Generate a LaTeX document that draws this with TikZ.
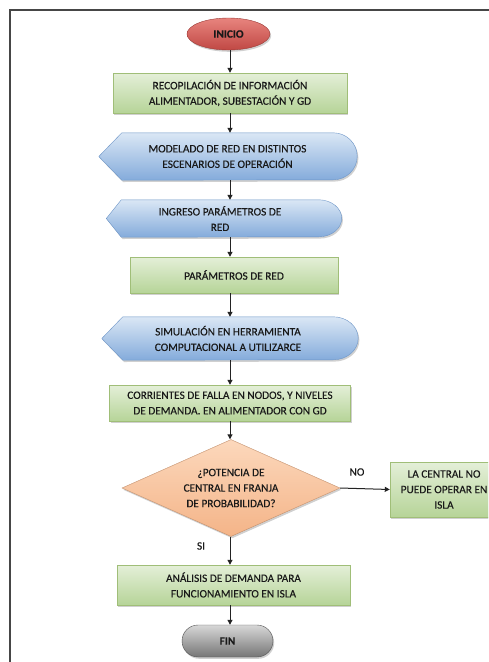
\documentclass[tikz,border=0pt]{standalone}
\usepackage{fontspec}
\setmainfont{Carlito}[FakeBold=0.25]
\usetikzlibrary{shapes.geometric,arrows.meta,shadows,backgrounds}
\definecolor{gtop}{RGB}{228,239,216}
\definecolor{gbot}{RGB}{182,212,152}
\definecolor{gline}{RGB}{160,190,120}
\definecolor{btop}{RGB}{218,231,245}
\definecolor{bbot}{RGB}{132,171,219}
\definecolor{bline}{RGB}{110,150,200}
\definecolor{rtop}{RGB}{232,132,126}
\definecolor{rbot}{RGB}{192,72,68}
\definecolor{otop}{RGB}{252,216,188}
\definecolor{obot}{RGB}{244,180,136}
\definecolor{ktop}{RGB}{215,215,215}
\definecolor{kbot}{RGB}{118,118,118}
\definecolor{txt}{RGB}{25,25,25}
\definecolor{framec}{RGB}{70,70,70}
\definecolor{arrc}{RGB}{35,35,35}
\newcommand{\dispbg}[4]{%
  \path[dispshape] ([xshift=-#2pt]#1.west) -- (#1.north west) -- (#1.north east)
    arc[start angle=90,end angle=-90,x radius=#3pt,y radius=#4pt]
    -- (#1.south west) -- cycle;}
\begin{document}
\begin{tikzpicture}[x=1pt,y=-1pt,
  every node/.style={font=\fontsize{11.3}{15.5}\selectfont, text=txt, align=center, inner sep=0pt},
  shad/.style={drop shadow={shadow xshift=1.2pt,shadow yshift=-1.8pt,opacity=0.3,fill=black!60}},
  procbox/.style={rectangle, draw=gline, line width=0.4pt, top color=gtop, bottom color=gbot, shad},
  dispshape/.style={draw=bline, line width=0.4pt, top color=btop, bottom color=bbot, shad},
  boldtxt/.style={font=\fontsize{11.3}{15.5}\selectfont\bfseries},
  arr/.style={draw=arrc, line width=1pt, -{Triangle[length=5pt,width=5pt]}},
  lbl/.style={font=\fontsize{11.3}{15.5}\selectfont}
]
\useasboundingbox (0,0) rectangle (488,662);
\clip (0,0) rectangle (488,662);

\coordinate (ax) at (230,0);

\node[ellipse, minimum width=83pt, minimum height=32pt, top color=rtop, bottom color=rbot,
      draw=rbot!80!black, line width=.4pt, shad, boldtxt] (inicio) at (228.5,34) {INICIO};
\node[procbox, minimum width=234pt, minimum height=40pt] (recop) at (230,93)
  {RECOPILACIÓN DE INFORMACIÓN\\ALIMENTADOR, SUBESTACIÓN Y GD};
\node[rectangle, minimum width=211pt, minimum height=47pt] (model) at (227.5,156.5)
  {MODELADO DE RED EN DISTINTOS\\ESCENARIOS DE OPERACIÓN};
\node[rectangle, minimum width=197pt, minimum height=37pt] (ingreso) at (220,218.5)
  {INGRESO PARÁMETROS DE\\RED};
\node[procbox, minimum width=208pt, minimum height=36pt] (param) at (234,275)
  {PARÁMETROS DE RED};
\node[rectangle, minimum width=210pt, minimum height=43pt] (simul) at (228,338.5)
  {SIMULACIÓN EN HERRAMIENTA\\COMPUTACIONAL A UTILIZARCE};
\node[procbox, minimum width=241pt, minimum height=36pt] (corr) at (230,403)
  {CORRIENTES DE FALLA EN NODOS, Y NIVELES\\DE DEMANDA. EN ALIMENTADOR CON GD};
\node[diamond, aspect=2.25, minimum width=218pt, minimum height=97pt, top color=otop, bottom color=obot,
      draw=obot!80!black, line width=.4pt, shad] (dec) at (231,488)
  {¿POTENCIA DE\\CENTRAL EN FRANJA\\DE PROBABILIDAD?};
\node[procbox, minimum width=108pt, minimum height=55pt] (nocentral) at (444,489.5)
  {LA CENTRAL NO\\PUEDE OPERAR EN\\ISLA};
\node[procbox, minimum width=233pt, minimum height=40pt] (analisis) at (233.5,585)
  {ANÁLISIS DE DEMANDA PARA\\FUNCIONAMIENTO EN ISLA};
\node[rectangle, rounded corners=16pt, minimum width=91pt, minimum height=32pt,
      top color=ktop, bottom color=kbot, draw=kbot!70!black, line width=.4pt, shad, boldtxt]
  (fin) at (227.5,641) {FIN};

\node[lbl] (no) at (357,472) {NO};
\node[lbl] (si) at (201,546) {SI};

\draw[arr] (inicio.south -| ax) -- (recop.north -| ax);
\draw[arr] (recop.south -| ax) -- (model.north -| ax);
\draw[arr] (model.south -| ax) -- (ingreso.north -| ax);
\draw[arr] (ingreso.south -| ax) -- (param.north -| ax);
\draw[arr] (param.south -| ax) -- (simul.north -| ax);
\draw[arr] (simul.south -| ax) -- (corr.north -| ax);
\draw[arr] (corr.south -| ax) -- (dec.north -| ax);
\draw[arr] (dec.east) -- (nocentral.west);
\draw[arr] (dec.south -| ax) -- (analisis.north -| ax);
\draw[arr] (analisis.south -| ax) -- (fin.north -| ax);

\begin{pgfonlayer}{background}
  \fill[white] (0,0) rectangle (488,662);
  \draw[framec, line width=1.3pt] (10,10) rectangle (520,700);
  \dispbg{model}{23}{24}{23.5}
  \dispbg{ingreso}{15}{23}{18.5}
  \dispbg{simul}{21}{25}{21.5}
\end{pgfonlayer}
\end{tikzpicture}
\end{document}
